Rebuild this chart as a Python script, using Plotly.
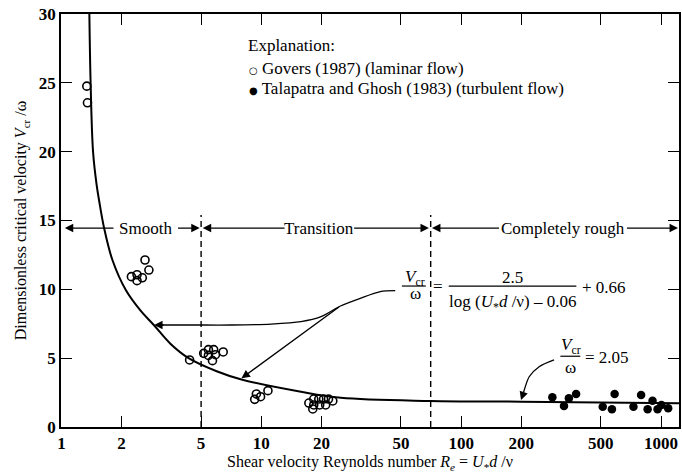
import numpy as np
import plotly.graph_objects as go

# ---- data ----
govers_x = [1.34, 1.35, 2.24, 2.39, 2.54, 2.39, 2.62, 2.74, 4.38,
            5.15, 5.44, 5.78, 5.44, 5.90, 5.70, 6.45,
            9.45, 9.92, 9.27, 10.8,
            17.3, 18.3, 19.4, 20.5, 21.7, 18.3, 19.6, 21.0, 18.1, 22.8]
govers_y = [24.76, 23.55, 10.92, 11.06, 10.84, 10.63, 12.13, 11.40, 4.87,
            5.35, 5.62, 5.62, 5.20, 5.25, 4.82, 5.45,
            2.40, 2.20, 2.01, 2.64,
            1.74, 2.03, 2.03, 2.03, 2.03, 1.60, 1.60, 1.60, 1.31, 1.89]

talapatra_x = [286, 327, 346, 376, 511, 568, 586, 728, 795, 857, 907, 961, 1005, 1086]
talapatra_y = [2.16, 1.53, 2.08, 2.40, 1.47, 1.29, 2.40, 1.47, 2.32, 1.29, 1.91, 1.29, 1.60, 1.36]

curve_x = [1.38, 1.40, 1.44, 1.50, 1.546, 1.637, 1.80, 2.10, 2.49, 2.90, 3.51, 4.33,
           5.98, 7.96, 15.8, 25, 70, 200, 1230]
curve_y = [30, 25, 20, 17.6, 16.4, 14.43, 12.13, 9.95, 8.45, 7.41, 6.05, 5.00,
           4.05, 3.45, 2.56, 2.12, 1.89, 1.84, 1.72]

# regime boundaries
boundary_x = [5, 70.4]
boundary_top = 15.4
regime_y = 14.45

# leader lines (formula -> curve)
leaderA_x = [46.8, 39.4, 31.3, 24.9, 19.9, 15.8, 11.2, 7.10, 4.49, 3.05]
leaderA_y = [9.90, 9.83, 9.35, 8.79, 8.01, 7.65, 7.48, 7.41, 7.41, 7.41]
leaderC_x = [291.7, 245.6, 219, 206.9, 203]
leaderC_y = [4.87, 4.38, 3.65, 2.69, 2.30]

x_ticks = [1, 2, 5, 10, 20, 50, 100, 200, 500, 1000]
y_ticks = [0, 5, 10, 15, 20, 25, 30]

SERIF = "Liberation Serif"
BLACK = "black"

fig = go.Figure()

fig.add_trace(go.Scatter(x=curve_x, y=curve_y, mode="lines",
                         line=dict(color=BLACK, width=2, shape="spline", smoothing=1.0),
                         showlegend=False, hoverinfo="skip"))

for bx in boundary_x:
    fig.add_trace(go.Scatter(x=[bx, bx], y=[0, boundary_top], mode="lines",
                             line=dict(color=BLACK, width=1.4, dash="6px,4px"),
                             showlegend=False, hoverinfo="skip"))

fig.add_trace(go.Scatter(x=leaderA_x, y=leaderA_y, mode="lines",
                         line=dict(color=BLACK, width=1.3, shape="spline", smoothing=0.8),
                         showlegend=False, hoverinfo="skip"))
fig.add_trace(go.Scatter(x=leaderC_x, y=leaderC_y, mode="lines",
                         line=dict(color=BLACK, width=1.3, shape="spline", smoothing=0.8),
                         showlegend=False, hoverinfo="skip"))

fig.add_trace(go.Scatter(x=govers_x, y=govers_y, mode="markers",
                         marker=dict(symbol="circle-open", size=8, color=BLACK,
                                     line=dict(width=1.6, color=BLACK)),
                         name="Govers (1987) (laminar flow)", showlegend=False))
fig.add_trace(go.Scatter(x=talapatra_x, y=talapatra_y, mode="markers",
                         marker=dict(symbol="circle", size=8.5, color=BLACK),
                         name="Talapatra and Ghosh (1983) (turbulent flow)", showlegend=False))

L = np.log10
ann = []

def arrow(xh, yh, xt, yt):
    ann.append(dict(x=L(xh), y=yh, ax=L(xt), ay=yt, xref="x", yref="y",
                    axref="x", ayref="y", text="", showarrow=True,
                    arrowhead=2, arrowsize=1.3, arrowwidth=1.3, arrowcolor=BLACK,
                    standoff=0, startstandoff=0))

def txt(x, y, s, size=17, xanchor="center"):
    ann.append(dict(x=L(x), y=y, xref="x", yref="y", text=s, showarrow=False,
                    xanchor=xanchor, yanchor="middle",
                    font=dict(family=SERIF, size=size, color=BLACK)))

# regime labels with arrows
txt(10 ** 0.4216, regime_y, "Smooth")
arrow(10 ** 0.017, regime_y, 10 ** 0.268, regime_y)
arrow(10 ** 0.692, regime_y, 10 ** 0.576, regime_y)
txt(10 ** 1.2905, regime_y, "Transition")
arrow(10 ** 0.707, regime_y, 10 ** 1.124, regime_y)
arrow(10 ** 1.839, regime_y, 10 ** 1.457, regime_y)
txt(10 ** 2.509, regime_y, "Completely rough")
arrow(10 ** 1.854, regime_y, 10 ** 2.197, regime_y)
arrow(10 ** 3.085, regime_y, 10 ** 2.822, regime_y)

# leader arrowheads
arrow(2.91, 7.41, 3.3, 7.41)
arrow(7.96, 3.54, 24.9, 8.79)
arrow(199.3, 1.96, 203, 2.30)

# explanation block
txt(10 ** 0.9255, 27.74, "Explanation:", xanchor="left")
txt(10 ** 0.9305, 26.07,
    '<span style="font-family:DejaVu Sans;font-size:10px">○</span> Govers (1987) (laminar flow)',
    xanchor="left")
txt(10 ** 0.9305, 24.62,
    '<span style="font-family:DejaVu Sans;font-size:10px">●</span> Talapatra and Ghosh (1983) (turbulent flow)',
    xanchor="left")

# formula 1
txt(59.1, 10.85, "<i>V</i><sub>cr</sub>")
txt(59.1, 9.70, "ω")
txt(10 ** 1.885, 10.24, "=")
txt(10 ** 2.256, 10.85, "2.5")
txt(10 ** 2.256, 9.02, "log (<i>U</i><sub>*</sub><i>d</i> /ν) – 0.06")
txt(10 ** 2.595, 10.10, "+ 0.66", xanchor="left")
# formula 2
txt(10 ** 2.548, 5.85, "<i>V</i><sub>cr</sub>")
txt(10 ** 2.548, 4.35, "ω")
txt(10 ** 2.61, 5.02, "= 2.05", xanchor="left")

shapes = [
    dict(type="line", xref="paper", yref="y",
         x0=(403 - 61) / 620, x1=(427 - 61) / 620, y0=10.24, y1=10.24,
         line=dict(color=BLACK, width=1.2)),
    dict(type="line", xref="paper", yref="y",
         x0=(450 - 61) / 620, x1=(578 - 61) / 620, y0=10.24, y1=10.24,
         line=dict(color=BLACK, width=1.2)),
    dict(type="line", xref="paper", yref="y",
         x0=(562 - 61) / 620, x1=(582 - 61) / 620, y0=5.14, y1=5.14,
         line=dict(color=BLACK, width=1.2)),
]

axis_common = dict(showline=True, linecolor=BLACK, linewidth=1.5, mirror="ticks",
                   ticks="inside", ticklen=11, tickwidth=1.3, tickcolor=BLACK,
                   showgrid=False, zeroline=False,
                   tickfont=dict(family=SERIF, size=17, color=BLACK, weight="bold"))

fig.update_layout(
    width=682, height=474,
    margin=dict(l=61, r=1, t=14, b=47),
    paper_bgcolor="white", plot_bgcolor="white",
    showlegend=False,
    annotations=ann, shapes=shapes,
    xaxis=dict(type="log", range=[-0.002, 3.09], tickvals=x_ticks,
               ticktext=[str(v) for v in x_ticks],
               title=dict(text="Shear velocity Reynolds number <i>R<sub>e</sub></i> = <i>U</i><sub>*</sub><i>d</i> /ν",
                          font=dict(family=SERIF, size=16, color=BLACK), standoff=4),
               **axis_common),
    yaxis=dict(range=[0, 30], tickvals=y_ticks,
               title=dict(text="Dimensionless critical velocity <i>V</i><sub>cr</sub> /ω",
                          font=dict(family=SERIF, size=16, color=BLACK), standoff=8),
               **axis_common),
)

fig.write_html("out.html", config={"displayModeBar": False},
               post_script="document.body.style.margin='0';document.body.style.overflow='hidden';")
